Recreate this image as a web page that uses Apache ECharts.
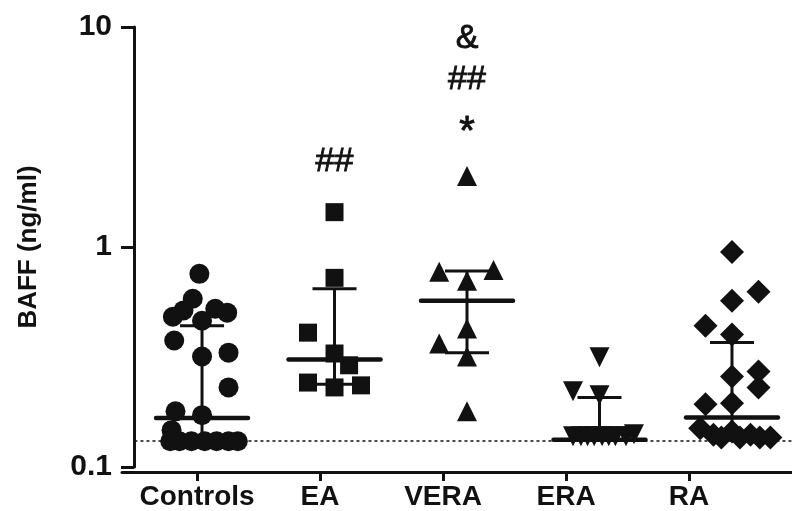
<!DOCTYPE html>
<html>
<head>
<meta charset="utf-8">
<script src="https://cdn.jsdelivr.net/npm/echarts@6/dist/echarts.min.js"></script>
<style>html,body{margin:0;padding:0;background:#fff}#c{width:792px;height:511px}</style>
</head>
<body>
<div id="c"></div>
<script>
// ---- data ----
const categories = ['Controls', 'EA', 'VERA', 'ERA', 'RA'];
const yTicks = [0.1, 1, 10];
const detectionLimit = 0.131;

// values (ng/ml) and horizontal jitter (category units) per group
const controlsValues = [0.755, 0.582, 0.515, 0.482, 0.524, 0.503, 0.462, 0.376, 0.331, 0.318, 0.230, 0.179, 0.172, 0.147, 0.131, 0.131, 0.131, 0.131, 0.131, 0.131, 0.131];
const controlsJitter = [-0.02, -0.07, -0.14, -0.22, 0.10, 0.19, 0.00, -0.21, 0.20, 0.00, 0.20, -0.20, 0.00, -0.23, -0.24, -0.17, -0.08, 0.02, 0.11, 0.20, 0.27];

const eaValues = [1.44, 0.724, 0.408, 0.328, 0.290, 0.242, 0.230, 0.235];
const eaJitter = [0.00, 0.00, -0.20, 0.00, 0.11, -0.20, 0.00, 0.20];

const veraValues = [2.10, 0.771, 0.787, 0.702, 0.426, 0.364, 0.318, 0.179];
const veraJitter = [0.00, -0.21, 0.20, 0.00, 0.00, -0.21, 0.00, 0.00];

const eraValues = [0.315, 0.221, 0.212, 0.141, 0.138, 0.138, 0.138, 0.138, 0.138, 0.138, 0.138, 0.138];
const eraJitter = [0.00, -0.20, 0.00, 0.26, -0.20, -0.14, -0.09, -0.04, 0.02, 0.07, 0.12, 0.20];

const raValues = [0.949, 0.626, 0.570, 0.439, 0.400, 0.272, 0.258, 0.230, 0.193, 0.195, 0.150, 0.140, 0.136, 0.145, 0.136, 0.140, 0.136, 0.136];
const raJitter = [0.00, 0.20, 0.00, -0.20, 0.00, 0.20, 0.00, 0.20, -0.20, 0.00, -0.24, -0.14, -0.08, 0.00, 0.06, 0.14, 0.21, 0.29];

// median and interquartile range per group
const medians = [0.167, 0.308, 0.570, 0.133, 0.168];
const q1s = [0.135, 0.238, 0.331, 0.133, 0.135];
const q3s = [0.439, 0.646, 0.778, 0.207, 0.368];

// significance annotations
const annotCat = [1, 2, 2, 2];
const annotY = [2.45, 3.3, 5.76, 8.9];
const annotText = ['##', '*', '##', '&'];

// ---- chart ----
const FONT = 'Liberation Sans, Arial, sans-serif';
const INK = '#111';
const groups = [
  {v: controlsValues, j: controlsJitter, symbol: 'circle', size: 20, rot: 0},
  {v: eaValues, j: eaJitter, symbol: 'rect', size: 18, rot: 0},
  {v: veraValues, j: veraJitter, symbol: 'triangle', size: 20, rot: 0},
  {v: eraValues, j: eraJitter, symbol: 'triangle', size: 20, rot: 180},
  {v: raValues, j: raJitter, symbol: 'diamond', size: 24, rot: 0}
];

const series = groups.map((g, gi) => ({
  type: 'scatter',
  xAxisIndex: 0, yAxisIndex: 0,
  symbol: g.symbol, symbolSize: g.size, symbolRotate: g.rot,
  itemStyle: {color: INK, opacity: 1},
  data: g.v.map((v, i) => [gi + g.j[i], v]),
  z: 3
}));

series.push({
  type: 'custom',
  xAxisIndex: 0, yAxisIndex: 0,
  z: 4,
  encode: {x: 0, y: [1, 2, 3]},
  data: categories.map((c, i) => [i, medians[i], q1s[i], q3s[i]]),
  renderItem: function (params, api) {
    const x = api.value(0);
    const pm = api.coord([x, api.value(1)]);
    const p1 = api.coord([x, api.value(2)]);
    const p3 = api.coord([x, api.value(3)]);
    const st = {stroke: INK, lineWidth: 3};
    return {type: 'group', children: [
      {type: 'line', shape: {x1: p1[0], y1: p1[1], x2: p3[0], y2: p3[1]}, style: st},
      {type: 'line', shape: {x1: p3[0] - 22, y1: p3[1], x2: p3[0] + 22, y2: p3[1]}, style: st},
      {type: 'line', shape: {x1: p1[0] - 22, y1: p1[1], x2: p1[0] + 22, y2: p1[1]}, style: st},
      {type: 'line', shape: {x1: pm[0] - 46, y1: pm[1], x2: pm[0] + 46, y2: pm[1]}, style: {stroke: INK, lineWidth: 4.5, lineCap: 'round'}}
    ]};
  }
});

// detection limit dotted line
series.push({
  type: 'line', xAxisIndex: 0, yAxisIndex: 0, data: [], silent: true,
  markLine: {
    symbol: 'none', silent: true, animation: false,
    label: {show: false},
    lineStyle: {color: INK, type: [3, 3], width: 1.5},
    data: [[{coord: [-0.51, detectionLimit]}, {coord: [4.453, detectionLimit]}]]
  }
});

// annotations
series.push({
  type: 'scatter', xAxisIndex: 0, yAxisIndex: 0,
  symbol: 'circle', symbolSize: 1, silent: true,
  itemStyle: {color: 'rgba(0,0,0,0)', opacity: 1},
  data: annotText.map((t, i) => ({value: [annotCat[i], annotY[i]],
    label: {formatter: t, fontSize: t === '*' ? 40 : 34}})),
  label: {show: true, position: 'inside', color: INK, opacity: 1, fontFamily: FONT, fontSize: 34, fontWeight: 'normal',
    textBorderColor: INK, textBorderWidth: 0.9},
  z: 5
});

const chart = echarts.init(document.getElementById('c'), null, {renderer: 'canvas'});
chart.setOption({
  animation: false,
  backgroundColor: '#fff',
  grid: {left: 122, right: 0, top: 27, bottom: 42, containLabel: false},
  xAxis: [
    {type: 'value', min: -0.604, max: 4.453, show: false},
    {type: 'value', min: -0.61, max: 4.837, position: 'bottom', offset: 5,
     axisLine: {show: true, onZero: false, lineStyle: {color: INK, width: 3}},
     axisTick: {show: true, length: 9, lineStyle: {color: INK, width: 3}, customValues: [0, 1, 2, 3, 4]},
     axisLabel: {show: true, customValues: [0, 1, 2, 3, 4], formatter: v => categories[Math.round(v)] || '',
       color: INK, fontFamily: FONT, fontWeight: 'bold', fontSize: 28, margin: 11},
     splitLine: {show: false}}
  ],
  yAxis: [{
    type: 'log', logBase: 10, min: yTicks[0], max: yTicks[yTicks.length - 1], offset: -12,
    name: 'BAFF (ng/ml)', nameLocation: 'middle', nameRotate: 90, nameGap: 92,
    nameTextStyle: {color: INK, fontFamily: FONT, fontWeight: 'bold', fontSize: 26},
    axisLine: {show: true, onZero: false, lineStyle: {color: INK, width: 3}},
    axisTick: {show: true, length: 13, lineStyle: {color: INK, width: 3}},
    minorTick: {show: false},
    axisLabel: {color: INK, fontFamily: FONT, fontWeight: 'bold', fontSize: 30, margin: 22,
      formatter: v => String(Number(v.toPrecision(2)))},
    splitLine: {show: false}
  }],
  series: series
});
</script>
</body>
</html>
